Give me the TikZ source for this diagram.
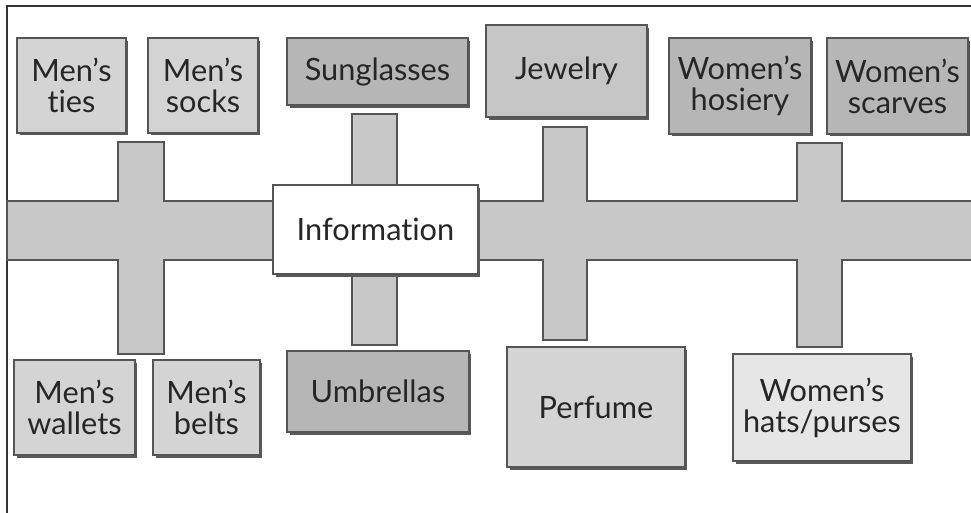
\documentclass[tikz,border=0pt]{standalone}
\usepackage{fontspec}
\setmainfont{Lato}[Ligatures={NoCommon,TeX}]
\usetikzlibrary{shadows}
\definecolor{lightgoods}{HTML}{D4D4D4}
\definecolor{darkgoods}{HTML}{B6B6B6}
\definecolor{midgoods}{HTML}{C6C6C6}
\definecolor{palegoods}{HTML}{E6E6E6}
\definecolor{aislegray}{HTML}{C8C8C8}
\definecolor{edgegray}{HTML}{555555}
\tikzset{
  counter/.style={draw=edgegray, line width=0.6pt, inner sep=0pt, align=center,
    text=black!85, font=\fontsize{17.5}{17.5}\selectfont,
    drop shadow={shadow xshift=0.05cm, shadow yshift=-0.05cm, fill=black!65, opacity=1}},
  light/.style={counter, fill=lightgoods},
  dark/.style={counter, fill=darkgoods},
  mid/.style={counter, fill=midgoods},
  pale/.style={counter, fill=palegoods},
}
\begin{document}
\begin{tikzpicture}[x=0.02cm,y=-0.02cm]
      \useasboundingbox (0,0) rectangle (971,512);
      \clip (0,0) rectangle (971,512);
      % frame
      \draw[line width=1.1pt, black!80] (975,6) -| (7,520);
      % aisle with its cross aisles
      \draw[fill=aislegray, draw=edgegray, line width=0.6pt]
        (7,201) -- (118,201) -- (118,142) -- (164,142) -- (164,201)
        -- (352,201) -- (352,114) -- (397,114) -- (397,201)
        -- (543,201) -- (543,127) -- (587,127) -- (587,201)
        -- (797,201) -- (797,143) -- (842,143) -- (842,201) -- (980,201)
        -- (980,260) -- (842,260) -- (842,347) -- (797,347) -- (797,260)
        -- (587,260) -- (587,340) -- (543,340) -- (543,260)
        -- (397,260) -- (397,345) -- (352,345) -- (352,260)
        -- (164,260) -- (164,354) -- (118,354) -- (118,260) -- (7,260) -- cycle;
      \path
        (71.5,85.5) node[light, minimum width=2.18cm, minimum height=1.9cm] (ties) {Men's\\ties}
        (203,85.5) node[light, minimum width=2.2cm, minimum height=1.9cm] (socks) {Men's\\socks}
        (377.5,71.5) node[dark, minimum width=3.62cm, minimum height=1.34cm] (sunglasses) {Sunglasses}
        (566.5,71) node[mid, minimum width=3.22cm, minimum height=1.84cm] (jewelry) {Jewelry}
        (740,86) node[dark, minimum width=2.84cm, minimum height=1.92cm] (hosiery) {Women's\\hosiery}
        (897.5,86) node[dark, minimum width=2.82cm, minimum height=1.92cm] (scarves) {Women's\\scarves}
        (375.5,229.5) node[counter, fill=white, minimum width=4.1cm, minimum height=1.78cm] (info) {Information}
        (74.5,407.5) node[light, minimum width=2.42cm, minimum height=1.9cm] (wallets) {Men's\\wallets}
        (206.5,407.5) node[light, minimum width=2.14cm, minimum height=1.9cm] (belts) {Men's\\belts}
        (378,391.5) node[dark, minimum width=3.64cm, minimum height=1.62cm] (umbrellas) {Umbrellas}
        (596,407) node[light, minimum width=3.56cm, minimum height=2.4cm] (perfume) {Perfume}
        (822,407.5) node[pale, minimum width=3.56cm, minimum height=2.14cm] (hatspurses) {Women's\\hats/purses};
    \end{tikzpicture}
\end{document}
